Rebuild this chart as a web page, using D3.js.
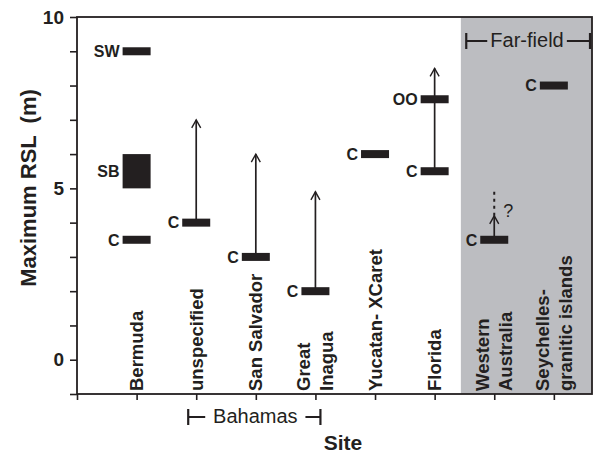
<!DOCTYPE html>
<html><head><meta charset="utf-8">
<script src="https://cdn.jsdelivr.net/npm/d3@7"></script>
<style>body{margin:0;background:#fff}svg text{font-family:"Liberation Sans",Arial,Helvetica,sans-serif;fill:#231f20}</style>
</head><body><svg id="c" width="600" height="455"></svg>
<script>
const siteLines = [["Bermuda"],["unspecified"],["San Salvador"],["Great","Inagua"],["Yucatan- XCaret"],["Florida"],["Western","Australia"],["Seychelles-","granitic islands"]];
const yTickValues = d3.range(-1, 11);
const yTickLabels = [0, 5, 10];
const markerSite  = [0, 0, 1, 2, 3, 4, 5, 5, 6, 7];
const markerValue = [9, 3.5, 4, 3, 2, 6, 5.5, 7.6, 3.5, 8];
const markerLabel = ["SW","C","C","C","C","C","C","OO","C","C"];
const boxSite = [0], boxLow = [5], boxHigh = [6], boxLabel = ["SB"];
const arrowSite = [1, 2, 3, 5, 6];
const arrowFrom = [4, 3, 2, 5.5, 3.5];
const arrowTo   = [7, 6, 4.9, 8.5, 4.2];
const dashSite = [6], dashFrom = [4.2], dashTo = [4.9];
const farFieldStart = 5.44;

const ink = "#231f20";
const svg = d3.select("#c");
const L = 77, R = 592, T = 17, B = 394;
const x = d3.scaleLinear().domain([-1, 7.64]).range([L, R]);
const y = d3.scaleLinear().domain([-1, 10]).range([B, T]);

// far-field shading
svg.append("rect").attr("x", x(farFieldStart)).attr("y", T).attr("width", R - x(farFieldStart)).attr("height", B - T).attr("fill", "#bcbdc1");

// axes
const yAxis = svg.append("g").attr("transform", `translate(${L},0)`)
  .call(d3.axisLeft(y).tickValues(yTickValues).tickSize(7).tickFormat(d => yTickLabels.includes(d) ? d : ""));
yAxis.selectAll("text").attr("font-size", 19).attr("font-weight", "bold").attr("x", -13).style("fill", ink);
const xAxis = svg.append("g").attr("transform", `translate(0,${B})`)
  .call(d3.axisBottom(x).tickValues(d3.range(-1, 8)).tickSize(6).tickFormat(""));
[yAxis, xAxis].forEach(g => { g.select(".domain").remove(); g.selectAll("line").attr("stroke", ink).attr("stroke-width", 1.6); });

// frame
svg.append("rect").attr("x", L).attr("y", T).attr("width", R - L).attr("height", B - T)
  .attr("fill", "none").attr("stroke", ink).attr("stroke-width", 1.8);

// category labels
siteLines.forEach((lines, i) => {
  const t = svg.append("text").attr("transform", `translate(${x(i)},391) rotate(-90)`)
    .attr("text-anchor", "start").attr("font-size", 18.5).attr("font-weight", "bold");
  lines.forEach((s, k) => {
    const off = lines.length === 1 ? 0 : (k === 0 ? -11.5 : 11.5);
    t.append("tspan").attr("x", 0).attr("y", off).attr("dy", "0.35em").text(s);
  });
});

const bw = 28, bh = 8;
// arrows
function arrow(i, a, b, dashed) {
  const cx = x(i);
  svg.append("line").attr("x1", cx).attr("x2", cx).attr("y1", y(a)).attr("y2", y(b))
    .attr("stroke", ink).attr("stroke-width", dashed ? 2 : 1.7).attr("stroke-dasharray", dashed ? "3,4" : null);
  if (!dashed) {
    svg.append("path").attr("d", `M${cx - 4.5},${y(b) + 8} L${cx},${y(b)} L${cx + 4.5},${y(b) + 8}`)
      .attr("fill", "none").attr("stroke", ink).attr("stroke-width", 1.4);
  }
}
arrowSite.forEach((s, k) => arrow(s, arrowFrom[k], arrowTo[k], false));
dashSite.forEach((s, k) => {
  arrow(s, dashFrom[k], dashTo[k], true);
  svg.append("text").attr("x", x(s) + 9).attr("y", y(dashFrom[k]) + 1).attr("font-size", 18).text("?");
});

// boxes
boxSite.forEach((s, k) => {
  svg.append("rect").attr("x", x(s) - bw / 2).attr("y", y(boxHigh[k])).attr("width", bw).attr("height", y(boxLow[k]) - y(boxHigh[k])).attr("fill", ink);
  svg.append("text").attr("x", x(s) - bw / 2 - 3).attr("y", y((boxLow[k] + boxHigh[k]) / 2)).attr("dy", "0.35em")
    .attr("text-anchor", "end").attr("font-size", 16).attr("font-weight", "bold").text(boxLabel[k]);
});
// markers
markerSite.forEach((s, k) => {
  svg.append("rect").attr("x", x(s) - bw / 2).attr("y", y(markerValue[k]) - bh / 2).attr("width", bw).attr("height", bh).attr("fill", ink);
  svg.append("text").attr("x", x(s) - bw / 2 - 3).attr("y", y(markerValue[k])).attr("dy", "0.36em")
    .attr("text-anchor", "end").attr("font-size", 16).attr("font-weight", "bold").text(markerLabel[k]);
});

// brackets
function bracket(x1, x2, yy, label, tx1, tx2) {
  svg.append("text").attr("x", (tx1 + tx2) / 2).attr("y", yy + 6).attr("text-anchor", "middle").attr("font-size", 20).text(label);
  const g = svg.append("g").attr("stroke", ink).attr("stroke-width", 2.2);
  g.append("line").attr("x1", x1).attr("x2", x1).attr("y1", yy - 8).attr("y2", yy + 8);
  g.append("line").attr("x1", x2).attr("x2", x2).attr("y1", yy - 8).attr("y2", yy + 8);
  g.append("line").attr("x1", x1).attr("x2", tx1).attr("y1", yy).attr("y2", yy).attr("stroke-width", 2);
  g.append("line").attr("x1", tx2).attr("x2", x2).attr("y1", yy).attr("y2", yy).attr("stroke-width", 2);
}
bracket(x(1) - 8, x(3) + 5, 417, "Bahamas", x(1) + 9, x(3) - 10);
bracket(x(6) - 28, R - 2, 41, "Far-field", x(6) - 7, x(7) + 13);

// titles
svg.append("text").attr("x", 343).attr("y", 450).attr("text-anchor", "middle").attr("font-size", 21).attr("font-weight", "bold").text("Site");
svg.append("text").attr("transform", "translate(28,188) rotate(-90)").attr("text-anchor", "middle").attr("dy", "0.36em")
  .attr("font-size", 22).attr("font-weight", "bold").style("white-space", "pre").text("Maximum RSL  (m)");
</script></body></html>
